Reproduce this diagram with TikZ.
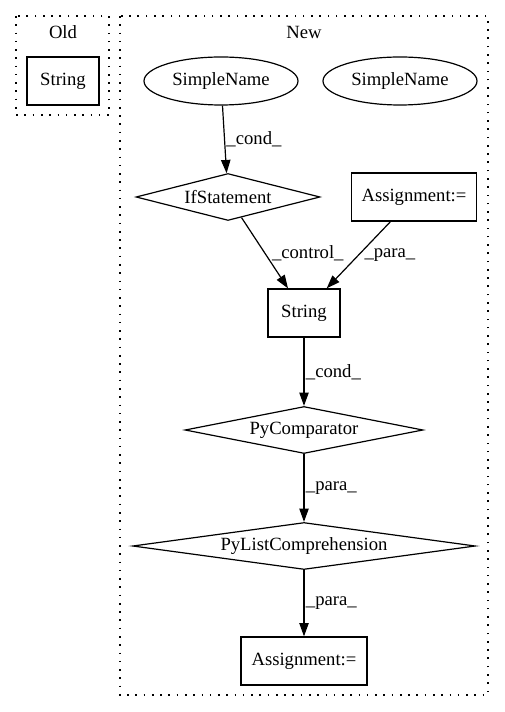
\documentclass[tikz,border=0pt]{standalone}
\usepackage{fontspec}
\setmainfont{Liberation Serif}
\usetikzlibrary{shapes.geometric,arrows.meta}

\begin{document}
\begin{tikzpicture}[x=0.75pt,y=-0.75pt,font=\fontsize{14pt}{16pt}\selectfont,
  box/.style={draw,rectangle,line width=0.9pt,minimum height=36pt,inner sep=0pt},
  oval/.style={draw,ellipse,line width=0.9pt,minimum width=115.5pt,minimum height=36pt,inner sep=0pt},
  dia/.style={draw,diamond,aspect=7,line width=0.9pt,minimum height=35.25pt,inner sep=0pt},
  cluster/.style={draw,line width=0.9pt,dash pattern=on 1.2pt off 5pt},
  edge/.style={line width=0.9pt,-{Triangle[length=10pt,width=7pt]}},
  lbl/.style={right,inner sep=1pt}]
\useasboundingbox (0,0) rectangle (504,712);
\draw[cluster] (16,16) rectangle (109,115);
\draw[cluster] (120,16) rectangle (488,695);
\node (old) at (63,32) {Old};
\node (new) at (304,32) {New};
\node[box,minimum width=54pt] (strold) at (63,81) {String};
\node[oval] (sn1) at (221,81) {SimpleName};
\node[oval] (sn2) at (400,81) {SimpleName};
\node[dia,minimum width=138pt] (ifst) at (228,197) {IfStatement};
\node[box,minimum width=94pt] (asg1) at (414,197) {Assignment:=};
\node[box,minimum width=54pt] (str) at (304,313) {String};
\node[dia,minimum width=178.5pt] (cmp) at (304,430) {PyComparator};
\node[dia,minimum width=257pt] (lc) at (304,546) {PyListComprehension};
\node[box,minimum width=94.5pt] (asg2) at (304,661) {Assignment:=};
\draw[edge] (sn1) -- (ifst) node[midway,lbl]{\_cond\_};
\draw[edge] (ifst) -- ([xshift=-12pt]str.north) node[midway,lbl,xshift=4pt]{\_control\_};
\draw[edge] (asg1) -- ([xshift=17pt]str.north) node[midway,lbl,xshift=3pt]{\_para\_};
\draw[edge] (str) -- (cmp) node[midway,lbl]{\_cond\_};
\draw[edge] (cmp) -- (lc) node[midway,lbl]{\_para\_};
\draw[edge] (lc) -- (asg2) node[midway,lbl]{\_para\_};
\end{tikzpicture}
\end{document}
